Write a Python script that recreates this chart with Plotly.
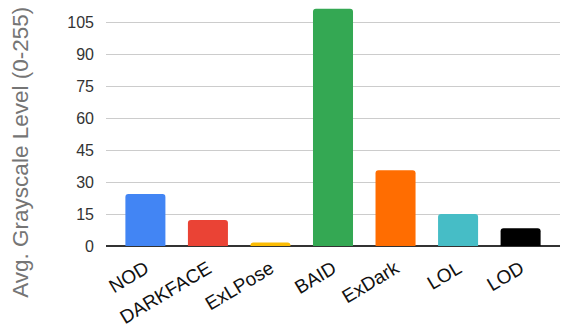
import plotly.graph_objects as go

# Average grayscale level per low-light dataset
datasets = ["NOD", "DARKFACE", "ExLPose", "BAID", "ExDark", "LOL", "LOD"]
avg_gray = [24.4, 12.2, 1.6, 111.2, 35.5, 15.0, 8.3]
bar_colors = ["#4285F4", "#EA4335", "#FBBC04", "#34A853", "#FF6D01", "#46BDC6", "#000000"]
y_ticks = [0, 15, 30, 45, 60, 75, 90, 105]

fig = go.Figure(
    go.Bar(
        x=datasets,
        y=avg_gray,
        marker=dict(color=bar_colors, line=dict(width=0)),
        width=0.64,
    )
)

fig.update_layout(
    width=561,
    height=329,
    margin=dict(l=106, r=1, t=5, b=83),
    paper_bgcolor="white",
    plot_bgcolor="white",
    showlegend=False,
    barcornerradius=3,
    font=dict(family="Liberation Sans, Arial, sans-serif", color="#222222"),
)

fig.update_xaxes(
    range=[-0.63, 6.63],
    tickangle=-31,
    tickfont=dict(size=19, color="#111111"),
    showgrid=False,
    showline=False,
    ticks="",
    ticklabelstandoff=7,
)

fig.update_yaxes(
    range=[0, 113],
    tickvals=y_ticks,
    tickfont=dict(size=16, color="#333333"),
    showgrid=True,
    gridcolor="#CCCCCC",
    gridwidth=1,
    zeroline=True,
    zerolinecolor="#333333",
    zerolinewidth=1.5,
    showline=False,
    ticks="",
    ticklabelstandoff=11,
)

fig.add_annotation(
    text="Avg. Grayscale Level (0-255)",
    xref="paper", yref="paper",
    x=-0.19, y=0.39,
    xanchor="center", yanchor="middle",
    textangle=-90,
    showarrow=False,
    font=dict(size=22.5, color="#757575"),
)

fig.write_html("out.html")
